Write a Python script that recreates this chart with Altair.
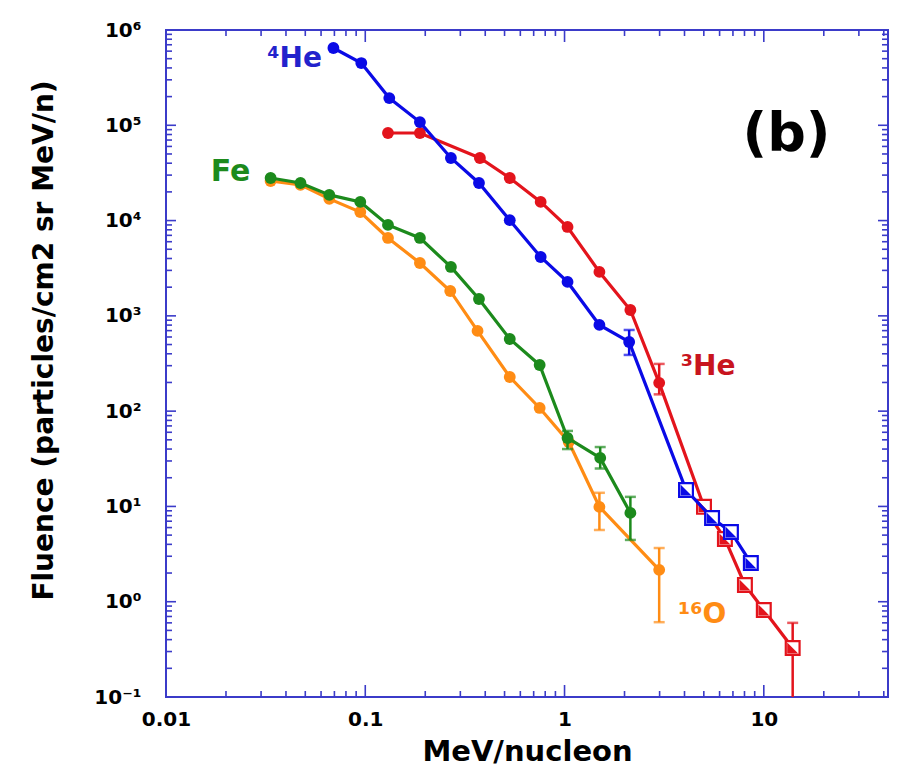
import altair as alt
import pandas as pd

# ---------------- data ----------------
# 4He (blue): circles then open squares
he4_x = [0.0692, 0.0955, 0.132, 0.188, 0.269, 0.372, 0.531, 0.759, 1.035, 1.496, 2.11, 4.07, 5.5, 6.84, 8.61]
he4_y = [6.47e5, 4.5e5, 1.93e5, 1.08e5, 4.54e4, 2.48e4, 1.01e4, 4150, 2270, 803, 532, 14.9, 7.57, 5.4, 2.55]
he4_kind = ["c", "c", "c", "c", "c", "c", "c", "c", "c", "c", "c", "s", "s", "s", "s"]

# 3He (red)
he3_x = [0.130, 0.188, 0.376, 0.531, 0.759, 1.035, 1.496, 2.14, 2.985, 5.01, 6.38, 8.04, 10.0, 13.96]
he3_y = [8.3e4, 8.3e4, 4.54e4, 2.8e4, 1.57e4, 8570, 2890, 1153, 198, 9.9, 4.56, 1.5, 0.82, 0.327]
he3_kind = ["c", "c", "c", "c", "c", "c", "c", "c", "c", "s", "s", "s", "s", "s"]

# Fe (green)
fe_x = [0.0335, 0.0473, 0.066, 0.0944, 0.130, 0.188, 0.269, 0.372, 0.531, 0.75, 1.035, 1.51, 2.14]
fe_y = [2.8e4, 2.48e4, 1.86e4, 1.57e4, 9000, 6570, 3260, 1504, 572, 305, 52.3, 32.3, 8.55]

# 16O (orange)
o_x = [0.0335, 0.0473, 0.066, 0.0944, 0.130, 0.188, 0.267, 0.366, 0.531, 0.75, 1.05, 1.496, 2.985]
o_y = [2.6e4, 2.37e4, 1.69e4, 1.23e4, 6570, 3590, 1825, 695, 228, 108, 47.5, 9.9, 2.16]

# error bars: x, low, high
he4_err_x, he4_err_lo, he4_err_hi = [2.11], [389], [711]
he3_err_x, he3_err_lo, he3_err_hi = [2.985, 13.96], [150, 0.05], [313, 0.6]
fe_err_x, fe_err_lo, fe_err_hi = [1.035, 1.51, 2.14], [40, 25, 4.45], [62, 42, 12.6]
o_err_x, o_err_lo, o_err_hi = [1.496, 2.985], [5.66, 0.61], [13.9, 3.66]

# in-plot labels
label_text = ["\u2074He", "Fe", "\u00b3He", "\u00b9\u2076O", "(b)"]
label_x = [0.0442, 0.0211, 5.25, 4.9, 13.0]
label_y = [4.97e5, 3.24e4, 291, 0.726, 7.9e4]
label_key = ["he4", "fe", "he3", "o", "b"]

# axis ticks
x_major = [0.01, 0.1, 1, 10]
x_minor = [m * 10.0 ** e for e in range(-2, 2) for m in range(2, 10) if m * 10.0 ** e <= 42]
y_major = [10.0 ** e for e in range(-1, 7)]
y_minor = [m * 10.0 ** e for e in range(-1, 6) for m in range(2, 10)]

# ---------------- styling ----------------
W, H = 722, 667
AX = "#3b3bc9"
FONT = "DejaVu Sans"
COL = {"he4": "#0a0ae6", "he3": "#e3141c", "fe": "#1c8a1c", "o": "#ff8c14", "b": "#000000"}
LCOL = {"he4": "#2222cc", "he3": "#c8141e", "fe": "#1c8a1c", "o": "#ff8c14", "b": "#000000"}
LSIZE = {"he4": 28, "he3": 28, "fe": 30, "o": 28, "b": 54}

xscale = alt.Scale(type="log", domain=[0.01, 42], nice=False)
yscale = alt.Scale(type="log", domain=[0.1, 1e6], nice=False)

sup = {-1: "\u207b\u00b9", 0: "\u2070", 1: "\u00b9", 2: "\u00b2", 3: "\u00b3",
       4: "\u2074", 5: "\u2075", 6: "\u2076"}
yexpr = ""
for e in range(-1, 7):
    yexpr += f"datum.value < {3 * 10.0 ** e} ? '10{sup[e]}' : "
yexpr += "''"

xaxis = alt.Axis(values=x_major, labelExpr="format(datum.value, '~g')", ticks=False, tickSize=0,
                 domain=False, grid=False, labelPadding=12, labelFontSize=20, labelFont=FONT,
                 labelFontWeight="bold", labelColor="black", labelFlush=False, labelOverlap=False,
                 title="MeV/nucleon", titleFont=FONT, titleFontSize=29, titleFontWeight="bold",
                 titleColor="black", titleX=W / 2, titleY=63, titleAlign="center",
                 titleBaseline="alphabetic")
yaxis = alt.Axis(values=y_major, labelExpr=yexpr, ticks=False, tickSize=0, domain=False, grid=False,
                 labelPadding=25, labelFontSize=20, labelFont=FONT, labelFontWeight="bold",
                 labelColor="black", labelFlush=False, labelOverlap=False,
                 title="Fluence (particles/cm2 sr MeV/n)", titleFont=FONT, titleFontSize=28,
                 titleFontWeight="bold", titleColor="black", titleX=-122, titleY=310,
                 titleAngle=270, titleAlign="center", titleBaseline="middle")


def X(field="x"):
    return alt.X(f"{field}:Q", scale=xscale, axis=xaxis)


def Y(field="y"):
    return alt.Y(f"{field}:Q", scale=yscale, axis=yaxis)


layers = []

series = [
    ("he4", he4_x, he4_y, he4_kind, he4_err_x, he4_err_lo, he4_err_hi),
    ("he3", he3_x, he3_y, he3_kind, he3_err_x, he3_err_lo, he3_err_hi),
    ("fe", fe_x, fe_y, ["c"] * len(fe_x), fe_err_x, fe_err_lo, fe_err_hi),
    ("o", o_x, o_y, ["c"] * len(o_x), o_err_x, o_err_lo, o_err_hi),
]

# draw order: orange, green, red, blue (blue on top)
for key, xs, ys, kinds, ex, elo, ehi in [series[3], series[2], series[1], series[0]]:
    c = COL[key]
    df = pd.DataFrame({"x": xs, "y": ys, "kind": kinds})
    edf = pd.DataFrame({"x": ex, "lo": elo, "hi": ehi})
    base = alt.Chart(df)
    layers.append(base.mark_line(color=c, strokeWidth=3.2, clip=True).encode(x=X(), y=Y()))
    eb = alt.Chart(edf)
    layers.append(eb.mark_rule(color=c, strokeWidth=2.5, clip=True).encode(
        x=X(), y=Y("lo"), y2="hi:Q"))
    for f in ["lo", "hi"]:
        layers.append(eb.mark_tick(color=c, orient="horizontal", size=11, thickness=2.5,
                                   clip=True).encode(x=X(), y=Y(f)))
    layers.append(base.transform_filter(alt.datum.kind == "c").mark_point(
        shape="circle", filled=True, size=140, color=c, opacity=1).encode(x=X(), y=Y()))
    layers.append(base.transform_filter(alt.datum.kind == "s").mark_point(
        shape="square", filled=True, fill="white", stroke=c, strokeWidth=2.2, size=190,
        opacity=1).encode(x=X(), y=Y()))
    layers.append(base.transform_filter(alt.datum.kind == "s").mark_point(
        shape="M-1,-1L1,1L-1,1Z", filled=True, color=c, size=120, opacity=1).encode(x=X(), y=Y()))

# labels
ldf = pd.DataFrame({"t": label_text, "x": label_x, "y": label_y, "k": label_key})
for k in label_key:
    layers.append(alt.Chart(ldf).transform_filter(alt.datum.k == k).mark_text(
        font=FONT, fontWeight="bold", fontSize=LSIZE[k], color=LCOL[k], align="center",
        baseline="middle").encode(x=X(), y=Y(), text="t:N"))

# frame ticks (inward)
def xticks(vals, length):
    d = pd.DataFrame({"v": vals})
    bottom = alt.Chart(d).mark_rule(color=AX, strokeWidth=1.6).encode(
        x=X("v"), y=alt.value(H), y2=alt.value(H - length))
    top = alt.Chart(d).mark_rule(color=AX, strokeWidth=1.6).encode(
        x=X("v"), y=alt.value(0), y2=alt.value(length))
    return [bottom, top]


def yticks(vals, length):
    d = pd.DataFrame({"v": vals})
    left = alt.Chart(d).mark_rule(color=AX, strokeWidth=1.6).encode(
        y=Y("v"), x=alt.value(0), x2=alt.value(length))
    right = alt.Chart(d).mark_rule(color=AX, strokeWidth=1.6).encode(
        y=Y("v"), x=alt.value(W), x2=alt.value(W - length))
    return [left, right]


layers += xticks(x_major, 12) + xticks(x_minor, 6) + yticks(y_major, 10) + yticks(y_minor, 6)

chart = alt.layer(*layers).properties(
    width=W, height=H,
    padding={"left": 158, "top": 22, "right": 1, "bottom": 70},
    autosize=alt.AutoSizeParams(type="none"),
    background="white",
).configure_view(stroke=AX, strokeWidth=2)

chart.save("out.html", embed_options={"renderer": "svg", "actions": False})
